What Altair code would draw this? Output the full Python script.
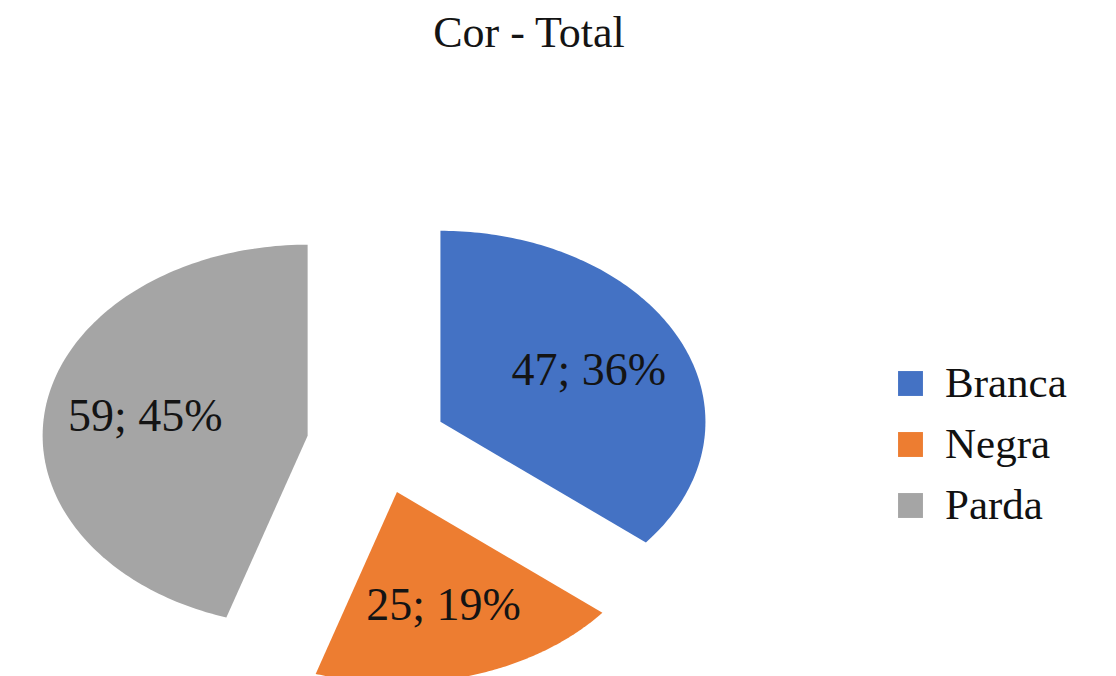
import altair as alt
import pandas as pd

# ---- data ----
categories = ["Branca", "Negra", "Parda"]
values = [47, 25, 59]
colors = ["#4472C4", "#ED7D31", "#A5A5A5"]
title_text = "Cor - Total"

df = pd.DataFrame({"cor": categories, "valor": values, "ordem": list(range(len(categories)))})

EXPLODE = 0.265   # slice explosion, in radius units
LABEL_R = 0.62    # label distance from slice apex, in radius units
N = 140           # points along each arc

x_scale = alt.Scale(domain=[-1.3925, 2.7585], nice=False, zero=False)
y_scale = alt.Scale(domain=[-1.196, 2.029], nice=False, zero=False)

base = (
    alt.Chart(df)
    .transform_joinaggregate(total="sum(valor)")
    .transform_window(fim="sum(valor)", sort=[alt.SortField("ordem")], frame=[None, 0])
    .transform_calculate(
        a0="2*PI*(datum.fim - datum.valor)/datum.total",
        a1="2*PI*datum.fim/datum.total",
    )
    .transform_calculate(mid="(datum.a0 + datum.a1)/2")
    .transform_calculate(
        cx=f"{EXPLODE}*sin(datum.mid)",
        cy=f"{EXPLODE}*cos(datum.mid)",
    )
)

slices = (
    base.transform_calculate(k=f"sequence(0, {N + 1})")
    .transform_flatten(["k"])
    .transform_calculate(ang=f"datum.a0 + (datum.a1 - datum.a0)*(datum.k - 1)/({N} - 1)")
    .transform_calculate(
        px="datum.cx + (datum.k == 0 ? 0 : sin(datum.ang))",
        py="datum.cy + (datum.k == 0 ? 0 : cos(datum.ang))",
    )
    .mark_line(filled=True, strokeWidth=0)
    .encode(
        x=alt.X("px:Q", scale=x_scale, axis=None),
        y=alt.Y("py:Q", scale=y_scale, axis=None),
        order=alt.Order("k:Q"),
        color=alt.Color(
            "cor:N",
            scale=alt.Scale(domain=categories, range=colors),
            legend=alt.Legend(
                title=None,
                orient="none",
                legendX=881,
                legendY=306,
                symbolType="square",
                symbolSize=620,
                symbolStrokeWidth=0,
                labelFont="Liberation Serif",
                labelFontSize=43,
                labelColor="#111111",
                labelOffset=13,
                rowPadding=17,
                padding=0,
            ),
        ),
    )
)

labels = (
    base.transform_calculate(
        lx=f"datum.cx + {LABEL_R}*sin(datum.mid)",
        ly=f"datum.cy + {LABEL_R}*cos(datum.mid)",
        rotulo="datum.valor + '; ' + format(datum.valor/datum.total, '.0%')",
    )
    .mark_text(font="Liberation Serif", fontSize=46, color="#141414", align="center", baseline="middle")
    .encode(
        x=alt.X("lx:Q", scale=x_scale, axis=None),
        y=alt.Y("ly:Q", scale=y_scale, axis=None),
        text="rotulo:N",
    )
)

chart = (
    alt.layer(slices, labels)
    .properties(
        width=1100,
        height=616,
        background="white",
        padding={"top": 4, "left": 0, "right": 0, "bottom": 0},
        title=alt.TitleParams(
            title_text,
            font="Liberation Serif",
            fontSize=44,
            fontWeight="normal",
            color="#141414",
            anchor="middle",
            dx=-29,
            offset=0,
        ),
    )
    .configure_view(strokeWidth=0)
)

chart.save("out.html", embed_options={"renderer": "svg", "actions": False})
